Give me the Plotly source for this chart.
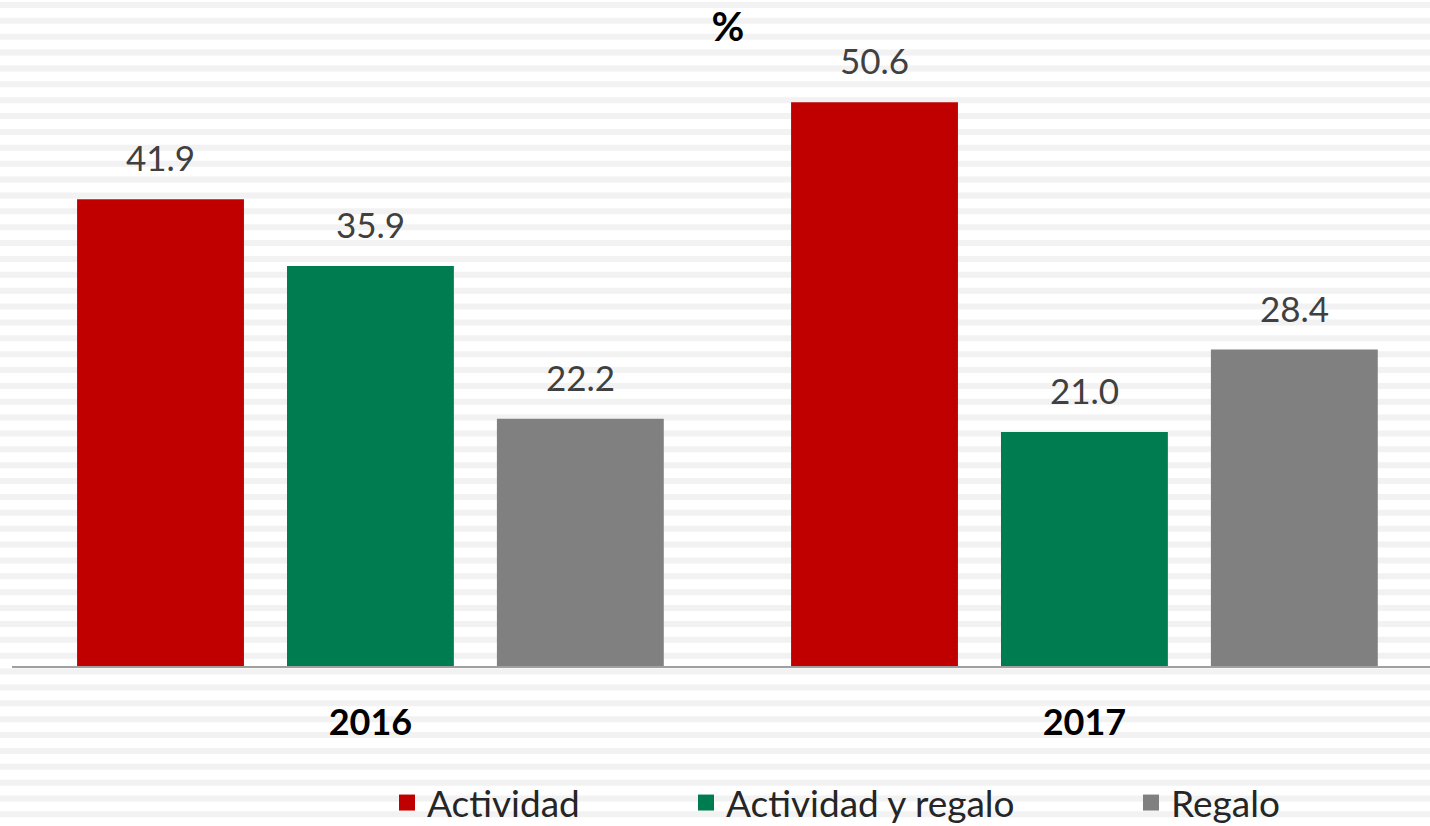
import plotly.graph_objects as go

years = ["2016", "2017"]
series_names = ["Actividad", "Actividad y regalo", "Regalo"]
actividad = [41.9, 50.6]
actividad_regalo = [35.9, 21.0]
regalo = [22.2, 28.4]
series_values = [actividad, actividad_regalo, regalo]
colors = ["#C00000", "#007D50", "#808080"]

W, H = 1430, 826
L, R, T, B = 12, 0, 21, 160
plot_w = W - L - R
plot_h = H - T - B
FONT = "Lato, 'Open Sans', sans-serif"

fig = go.Figure()

for name, vals, col in zip(series_names, series_values, colors):
    fig.add_trace(go.Bar(x=years, y=vals, name=name, marker=dict(color=col, line=dict(width=0)),
                         showlegend=False, hoverinfo="x+y+name"))

# legend proxies (one legend per item to reproduce spacing)
legend_ids = ["legend", "legend2", "legend3"]
legend_px = [387, 686, 1131]
for name, col, lid in zip(series_names, colors, legend_ids):
    fig.add_trace(go.Scatter(x=[None], y=[None], mode="markers", name=name,
                             marker=dict(symbol="square", size=22, color=col),
                             legend=lid, showlegend=True))

# value labels (category index positions)
slot_px = 210
for i, vals in enumerate(series_values):
    for ci, v in enumerate(vals):
        fig.add_annotation(x=ci, y=v, xref="x", yref="y", text=f"{v:.1f}", showarrow=False,
                           xshift=(i - 1) * slot_px, yanchor="bottom", yshift=19,
                           font=dict(family=FONT, size=35, color="#404040"))

# striped background
shapes = []
k = 0
while True:
    y0 = 2 + 15.87 * k
    if y0 > H:
        break
    y1 = y0 + 6
    shapes.append(dict(type="rect", xref="paper", yref="paper",
                       x0=-L / plot_w, x1=1 + R / plot_w,
                       y0=(H - B - y1) / plot_h, y1=(H - B - y0) / plot_h,
                       fillcolor="#F2F2F2", line=dict(width=0), layer="below"))
    k += 1

legend_common = dict(orientation="h", yanchor="middle", xanchor="left", bgcolor="rgba(0,0,0,0)",
                     font=dict(family=FONT, size=37, color="#262626"), itemsizing="trace")
leg_y = (H - B - 803) / plot_h

layout_legends = {}
for lid, px in zip(legend_ids, legend_px):
    layout_legends[lid] = dict(legend_common, x=(px - L) / plot_w, y=leg_y)

fig.update_layout(
    width=W, height=H,
    margin=dict(l=L, r=R, t=T, b=B, autoexpand=False),
    paper_bgcolor="white", plot_bgcolor="rgba(0,0,0,0)",
    barmode="group", bargap=0.118, bargroupgap=0.205,
    title=dict(text="<b>%</b>", x=728 / W, xref="container", xanchor="center",
               y=1 - 27 / H, yref="container", yanchor="middle",
               font=dict(family=FONT, size=40, color="#000000")),
    xaxis=dict(type="category", range=[-0.502, 1.484], showline=True, linecolor="#A0A0A0", linewidth=2,
               showgrid=False, zeroline=False, ticks="", ticklabelstandoff=24,
               tickfont=dict(family=FONT, size=36, color="#000000", weight="bold"), fixedrange=True),
    yaxis=dict(range=[0, plot_h / 11.14], visible=False, showgrid=False, zeroline=False, fixedrange=True),
    shapes=shapes,
    **layout_legends,
)

fig.write_html("out.html", config={"displayModeBar": False},
               post_script="document.body.style.margin='0';document.body.style.overflow='hidden';")
